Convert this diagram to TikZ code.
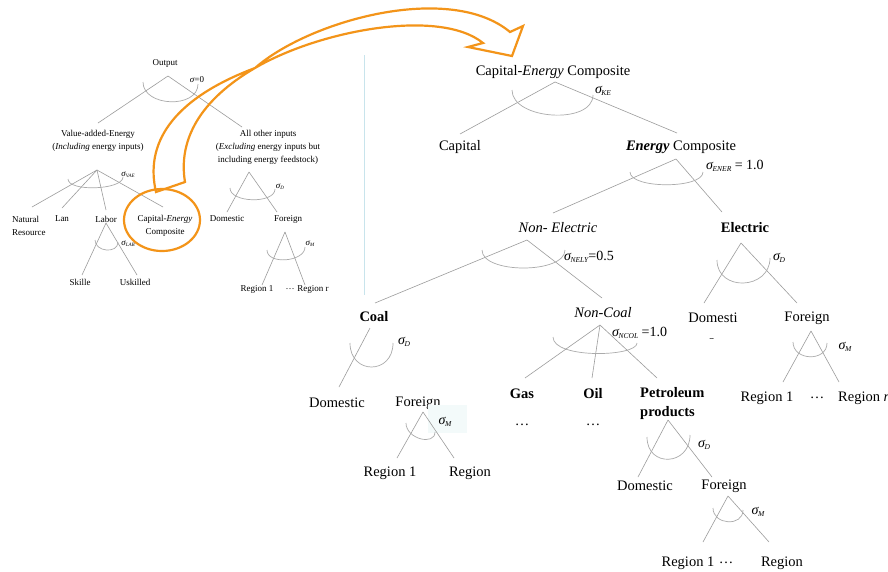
\documentclass[tikz,border=0pt]{standalone}
\usepackage{fontspec}
\setmainfont{Liberation Serif}
\definecolor{treeline}{HTML}{9C9C9C}
\definecolor{arcline}{HTML}{ABABAB}
\definecolor{accent}{HTML}{F39419}
\definecolor{divider}{HTML}{C8E4EC}
\definecolor{palebox}{HTML}{F3FAFA}
\newcommand{\sgR}[1]{{\itshape σ}\kern-0.5pt\raisebox{-2pt}{\fontsize{7.5}{8}\selectfont\itshape #1}}
\newcommand{\sgL}[1]{{\itshape σ}\raisebox{-1pt}{\fontsize{5}{5}\selectfont\itshape #1}}
\newcommand{\bowarc}[6]{\draw[bow] (#1,#2) .. controls (#1,#2+#5) and (#3,#4+#6) .. (#3,#4);}
\begin{document}
\begin{tikzpicture}[x=1pt,y=-1pt,
  branch/.style={draw=treeline, line width=0.6pt},
  bow/.style={draw=arcline, line width=0.7pt},
  sm/.style={inner sep=0pt, font=\fontsize{9}{13}\selectfont},
  lg/.style={inner sep=0pt, font=\fontsize{14.5}{19}\selectfont},
  sg/.style={inner sep=0pt, font=\fontsize{14}{16}\selectfont},
  accentline/.style={draw=accent, line width=2.2pt, line join=miter}]
\useasboundingbox (0,0) rectangle (888,571);
\fill[white] (0,0) rectangle (888,571);

% divider
\coordinate (dvt) at (364,55);
\coordinate (dvb) at (364,295);
\draw[divider, line width=0.8pt] (dvt) -- (dvb);

% ---------------- left panel ----------------
\node[sm] (out) at (165,63) {Output};
\node[sm, align=center] (vae) at (98,140.5) {Value-added-Energy\\(\textit{Including} energy inputs)};
\node[sm, align=center] (aoi) at (268,147) {All other inputs\\(\textit{Excluding} energy inputs but\\including energy feedstock)};
\node[sm, align=left, anchor=west] (nat) at (12,225.5) {Natural\\Resource};
\node[sm] (lan) at (62,219) {Lan};
\node[sm] (lab) at (106,219) {Labor};
\node[sm, align=center] (cec) at (165,225.5) {Capital-\textit{Energy}\\Composite};
\node[sm] (skl) at (80,282) {Skille};
\node[sm] (usk) at (135,282) {Uskilled};
\node[sm] (dmL) at (227,219) {Domestic};
\node[sm] (frL) at (288,219) {Foreign};
\node[sm] (r1L) at (257,289) {Region 1};
\node[sm] (dtL) at (290,289) {…};
\node[sm] (rrL) at (313,289) {Region r};
\node[sm] (s0) at (197,80) {{\itshape σ}=0};
\node[sm] (sVAE) at (128,175) {\sgL{VAE}};
\node[sm] (sLAB) at (128,244) {\sgL{LAB}};
\node[sm] (sDL) at (280,187) {\sgL{D}};
\node[sm] (sML) at (310,244) {\sgL{M}};

\coordinate (a0) at (168,76);
\coordinate (e0a) at (98,123);  \coordinate (e0b) at (242,127);
\draw[branch] (a0) -- (e0a); \draw[branch] (a0) -- (e0b);
\coordinate (a1) at (97,170);
\coordinate (e1a) at (32,207); \coordinate (e1b) at (62,208);
\coordinate (e1c) at (106,210); \coordinate (e1d) at (163,207);
\foreach \e in {e1a,e1b,e1c,e1d} \draw[branch] (a1) -- (\e);
\coordinate (a2) at (106,223);
\coordinate (e2a) at (82,275); \coordinate (e2b) at (137,275);
\draw[branch] (a2) -- (e2a); \draw[branch] (a2) -- (e2b);
\coordinate (a3) at (249,172);
\coordinate (e3a) at (227,212); \coordinate (e3b) at (277,212);
\draw[branch] (a3) -- (e3a); \draw[branch] (a3) -- (e3b);
\coordinate (a4) at (285,232);
\coordinate (e4a) at (262,285); \coordinate (e4b) at (305,285);
\draw[branch] (a4) -- (e4a); \draw[branch] (a4) -- (e4b);

\bowarc{143}{82}{198}{84}{25}{25}
\bowarc{68}{179}{123}{177}{13}{13}
\bowarc{95}{240}{118}{242}{12}{12}
\bowarc{230}{188}{275}{189}{15}{15}
\bowarc{267}{250}{305}{247}{15}{15}

% ---------------- right panel ----------------
\node[lg] (ce) at (553,72) {Capital-\textit{Energy} Composite};
\node[lg] (cap) at (460,147) {Capital};
\node[lg] (ec) at (681,147) {\textbf{\textit{Energy}} Composite};
\node[lg] (ne) at (558,228) {\textit{Non- Electric}};
\node[lg] (el) at (745,228) {\textbf{Electric}};
\node[lg] (coal) at (374,317) {\textbf{Coal}};
\node[lg] (nc) at (603,313) {\textit{Non-Coal}};
\node[lg] (dmE) at (713,318) {Domesti};
\begin{scope}
\clip (700,332) rectangle (730,338.5);
\node[lg] (dmEc) at (711,342) {c};
\end{scope}
\node[lg] (frE) at (807,318) {Foreign};
\node[lg] (r1E) at (767,398) {Region 1};
\node[lg] (dtE) at (817,398) {…};
\node[lg, anchor=west] (rrE) at (838,398) {Region \textit{r}};
\node[lg] (dmC) at (337,403) {Domestic};
\node[lg] (frC) at (418,403) {Foreign};
\node[lg] (r1C) at (390,473) {Region 1};
\node[lg] (rrC) at (470,473) {Region};
\node[lg] (gas) at (522,394) {\textbf{Gas}};
\node[lg] (oil) at (593,394) {\textbf{Oil}};
\node[lg, anchor=west, align=left] (pet) at (640,403.5) {\textbf{Petroleum}\\\textbf{products}};
\node[lg] (dgas) at (522,425) {…};
\node[lg] (doil) at (593,425) {…};
\node[lg] (dmP) at (645,486) {Domestic};
\node[lg] (frP) at (724,486) {Foreign};
\node[lg] (r1P) at (688,563) {Region 1};
\node[lg] (dtP) at (726,563) {…};
\node[lg] (rrP) at (782,563) {Region};

\node[sg] (sKE) at (603,91) {\sgR{KE}};
\node[sg, anchor=west] (sENER) at (706,166) {\sgR{ENER} = 1.0};
\node[sg, anchor=west] (sNELY) at (564,257) {\sgR{NELY}=0.5};
\node[sg, anchor=west] (sNCOL) at (612,333) {\sgR{NCOL} =1.0};
\node[sg] (sDE) at (779,258) {\sgR{D}};
\node[sg] (sME) at (845,347) {\sgR{M}};
\node[sg] (sDC) at (404,342) {\sgR{D}};
\fill[palebox] (428,405) rectangle (467,433);
\node[sg] (sMC) at (445,422) {\sgR{M}};
\node[sg] (sDP) at (704,445) {\sgR{D}};
\node[sg] (sMP) at (758,512) {\sgR{M}};

\coordinate (a5) at (555,82);
\coordinate (e5a) at (460,134); \coordinate (e5b) at (677,133);
\draw[branch] (a5) -- (e5a); \draw[branch] (a5) -- (e5b);
\coordinate (a6) at (676,159);
\coordinate (e6a) at (553,213); \coordinate (e6b) at (722,212);
\draw[branch] (a6) -- (e6a); \draw[branch] (a6) -- (e6b);
\coordinate (a7) at (527,240);
\coordinate (e7a) at (375,303); \coordinate (e7b) at (602,298);
\draw[branch] (a7) -- (e7a); \draw[branch] (a7) -- (e7b);
\coordinate (a8) at (741,243);
\coordinate (e8a) at (704,303); \coordinate (e8b) at (797,303);
\draw[branch] (a8) -- (e8a); \draw[branch] (a8) -- (e8b);
\coordinate (a9) at (811,331);
\coordinate (e9a) at (783,382); \coordinate (e9b) at (839,382);
\draw[branch] (a9) -- (e9a); \draw[branch] (a9) -- (e9b);
\coordinate (a10) at (370,328);
\coordinate (e10a) at (339,387);
\draw[branch] (a10) -- (e10a);
\coordinate (a11) at (423,412);
\coordinate (e11a) at (397,458); \coordinate (e11b) at (454,458);
\draw[branch] (a11) -- (e11a); \draw[branch] (a11) -- (e11b);
\coordinate (a12) at (600,325);
\coordinate (e12a) at (525,378); \coordinate (e12b) at (592,378); \coordinate (e12c) at (657,378);
\foreach \e in {e12a,e12b,e12c} \draw[branch] (a12) -- (\e);
\coordinate (a13) at (668,420);
\coordinate (e13a) at (638,477); \coordinate (e13b) at (712,477);
\draw[branch] (a13) -- (e13a); \draw[branch] (a13) -- (e13b);
\coordinate (a14) at (728,496);
\coordinate (e14a) at (703,542); \coordinate (e14b) at (769,542);
\draw[branch] (a14) -- (e14a); \draw[branch] (a14) -- (e14b);

\bowarc{512}{90}{593}{95}{30}{30}
\bowarc{630}{172}{703}{172}{17}{17}
\bowarc{482}{250}{565}{250}{24}{24}
\bowarc{717}{260}{770}{258}{32}{32}
\bowarc{793}{342}{827}{343}{19}{19}
\bowarc{350}{343}{393}{343}{32}{32}
\bowarc{406}{423}{435}{432}{16}{14}
\bowarc{553}{337}{637}{343}{22}{14}
\bowarc{647}{437}{690}{435}{31}{31}
\bowarc{713}{508}{743}{510}{17}{17}

% ---------------- orange highlight ----------------
\draw[accentline] (162,220) ellipse [x radius=38, y radius=31];
\coordinate (t1) at (156,192);
\coordinate (t2) at (185,182);
\coordinate (tw) at (255,68);
\coordinate (h1) at (483,43);
\coordinate (h2) at (468,47);
\coordinate (h3) at (512,56);
\coordinate (h4) at (523,26);
\coordinate (h5) at (510,32);
\draw[accentline] (t1) .. controls (145,145) and (170,100) .. (tw)
  .. controls (320,30) and (440,8) .. (h1)
  -- (h2) -- (h3) -- (h4) -- (h5)
  .. controls (450,-18) and (310,20) .. (tw)
  .. controls (200,100) and (178,140) .. (t2) -- cycle;
\end{tikzpicture}
\end{document}
